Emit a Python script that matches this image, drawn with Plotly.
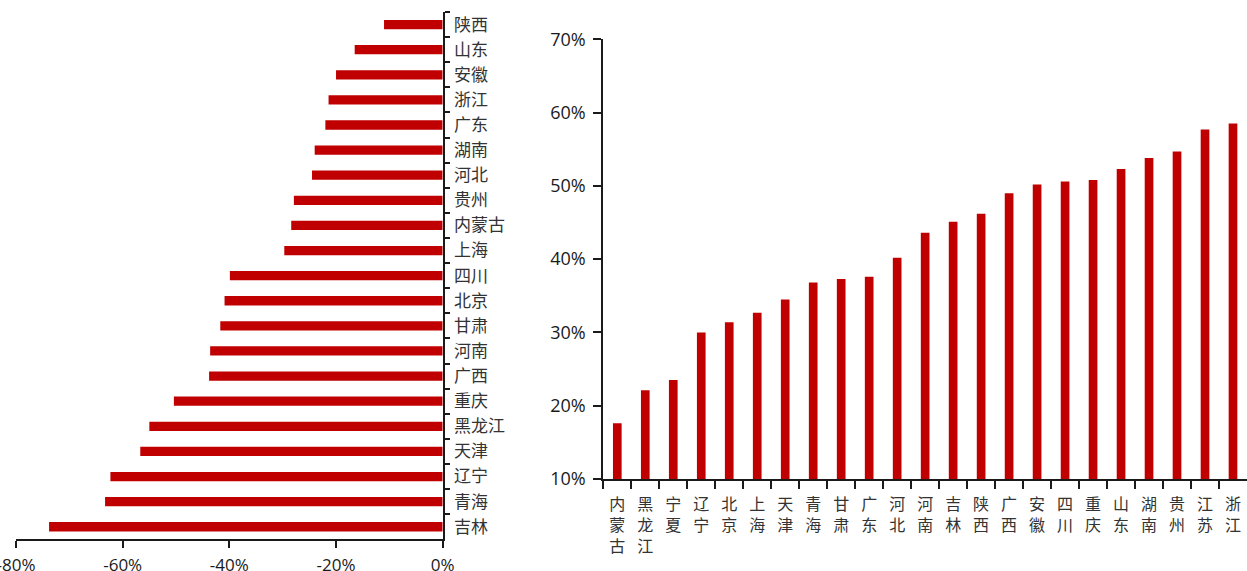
import plotly.graph_objects as go

W, H = 1247, 571
RED = "#C00000"
INK = "#1a1a1a"
CJK = "Noto Sans CJK SC"
NUM = "Open Sans"

# Left panel: provinces ordered top to bottom, values are negative changes
left_regions = ["陕西", "山东", "安徽", "浙江", "广东", "湖南", "河北", "贵州", "内蒙古", "上海",
                "四川", "北京", "甘肃", "河南", "广西", "重庆", "黑龙江", "天津", "辽宁", "青海", "吉林"]
left_values = [-0.110, -0.165, -0.200, -0.214, -0.220, -0.240, -0.245, -0.279, -0.284, -0.297,
               -0.399, -0.409, -0.417, -0.436, -0.438, -0.504, -0.550, -0.567, -0.623, -0.633, -0.738]
left_ticks = [-0.8, -0.6, -0.4, -0.2, 0.0]
left_ticktext = ["-80%", "-60%", "-40%", "-20%", "0%"]

# Right panel: provinces ordered left to right
right_regions = ["内蒙古", "黑龙江", "宁夏", "辽宁", "北京", "上海", "天津", "青海", "甘肃", "广东",
                 "河北", "河南", "吉林", "陕西", "广西", "安徽", "四川", "重庆", "山东", "湖南",
                 "贵州", "江苏", "浙江"]
right_values = [0.176, 0.221, 0.235, 0.300, 0.314, 0.327, 0.345, 0.368, 0.373, 0.376,
                0.402, 0.436, 0.451, 0.462, 0.490, 0.502, 0.506, 0.508, 0.523, 0.538,
                0.547, 0.577, 0.585]
right_ticks = [0.1, 0.2, 0.3, 0.4, 0.5, 0.6, 0.7]


def px_x(p):
    return p / W


def px_y(p):
    return 1 - p / H


fig = go.Figure()

fig.add_trace(go.Bar(
    x=left_values, y=left_regions, orientation="h",
    marker=dict(color=RED, line=dict(width=0)),
    width=0.37,
    xaxis="x", yaxis="y", showlegend=False,
))

fig.add_trace(go.Bar(
    x=right_regions, y=right_values,
    marker=dict(color=RED, line=dict(width=0)),
    width=0.31,
    xaxis="x2", yaxis="y2", showlegend=False,
))

axis_common = dict(
    showgrid=False, zeroline=False, showline=True, linecolor=INK, linewidth=2,
    ticks="outside", tickcolor=INK, tickwidth=2, automargin=False,
)

# vertical stacking of the right panel's category labels
right_labels = ["<br>".join(list(r)) for r in right_regions]

fig.update_layout(
    width=W, height=H,
    margin=dict(l=0, r=0, t=0, b=0),
    paper_bgcolor="white", plot_bgcolor="white",
    xaxis=dict(
        **axis_common,
        domain=[px_x(16), px_x(442.7)],
        anchor="y",
        range=[-0.8, 0],
        tickvals=left_ticks, ticktext=left_ticktext,
        ticklen=7,
        ticklabeloverflow="allow",
        ticklabelstandoff=2,
        tickfont=dict(family=NUM, size=17, color=INK),
    ),
    yaxis=dict(
        **axis_common,
        domain=[px_y(539.3), px_y(12)],
        anchor="x",
        side="right",
        type="category",
        categoryorder="array", categoryarray=left_regions,
        autorange="reversed",
        tickson="boundaries",
        ticklen=5,
        ticklabelstandoff=6,
        tickfont=dict(family=CJK, size=17, color="#333333"),
    ),
    xaxis2=dict(
        **axis_common,
        domain=[px_x(603.3), 1.0],
        anchor="y2",
        type="category",
        tickvals=right_regions, ticktext=right_labels,
        tickson="boundaries",
        ticklen=8,
        ticklabelstandoff=10,
        tickfont=dict(family=CJK, size=16, color="#333333"),
    ),
    yaxis2=dict(
        **axis_common,
        domain=[px_y(479), px_y(39.3)],
        anchor="x2",
        range=[0.1, 0.7],
        tickvals=right_ticks, tickformat=".0%",
        ticklen=8,
        ticklabelstandoff=4,
        tickfont=dict(family=NUM, size=18, color=INK),
    ),
)

fig.write_html("out.html")
